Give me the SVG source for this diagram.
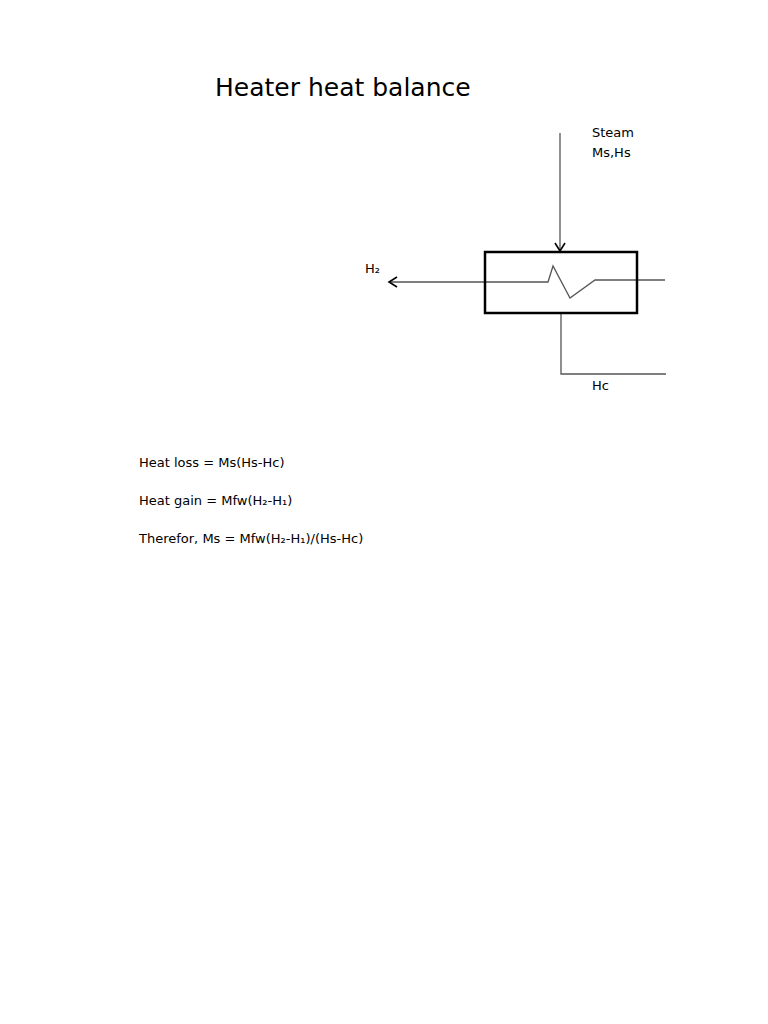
<svg xmlns="http://www.w3.org/2000/svg" width="768" height="1024" viewBox="0 0 768 1024">
<style>
text{font-family:"DejaVu Sans",sans-serif;fill:#000}
.s{font-size:13px}
.l{fill:none;stroke:#555;stroke-width:1.3}
</style>
<defs><marker id="a" markerWidth="12" markerHeight="12" refX="10" refY="6" orient="auto" markerUnits="userSpaceOnUse"><path d="M2,1 L10,6 L2,11" fill="none" stroke="#000" stroke-width="1.6"/></marker></defs>
<rect width="768" height="1024" fill="#fff"/>
<text x="215" y="96" font-size="25">Heater heat balance</text>
<g id="connectors">
<line class="l" x1="560" y1="133" x2="560" y2="251" marker-end="url(#a)"/>
<polyline class="l" points="665,280 595,280 570,298 553,266 548,282 389,282" marker-end="url(#a)"/>
<polyline class="l" points="561,314 561,374 666,374"/>
</g>
<g id="heater"><rect x="485" y="252" width="152" height="61" fill="none" stroke="#000" stroke-width="2.5"/></g>
<g id="labels" class="s">
<text x="592" y="137" class="s">Steam</text>
<text x="592" y="157" class="s">Ms,Hs</text>
<text x="365" y="273" class="s">H₂</text>
<text x="592" y="390" class="s">Hc</text>
<text x="139" y="467" class="s">Heat loss = Ms(Hs-Hc)</text>
<text x="139" y="505" class="s">Heat gain = Mfw(H₂-H₁)</text>
<text x="139" y="543" class="s">Therefor, Ms = Mfw(H₂-H₁)/(Hs-Hc)</text>
</g>
</svg>
